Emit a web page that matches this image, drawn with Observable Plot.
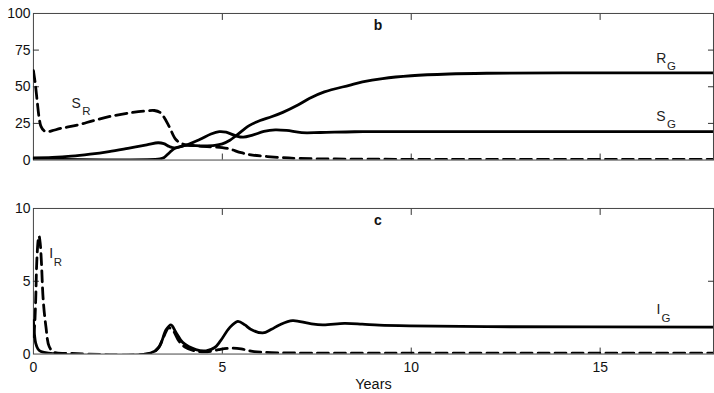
<!DOCTYPE html>
<html><head><meta charset="utf-8">
<script src="https://cdn.jsdelivr.net/npm/d3@7"></script>
<script src="https://cdn.jsdelivr.net/npm/@observablehq/plot@0.6"></script>
<style>
html,body{margin:0;padding:0;background:#fff;}
#wrap{position:relative;width:714px;height:393px;overflow:hidden;background:#fff;}
#top,#bot{position:absolute;left:0;}
#top{top:0px}
#bot{top:194px}
</style></head><body>
<div id="wrap"><div id="top"></div><div id="bot"></div></div>
<script>
// ---- data (years, value) ----
const xTickLabels = [0, 5, 10, 15];
const xInnerTicks = [5, 10, 15];
const topTicks = [0, 25, 50, 75, 100];
const topInnerTicks = [25, 50, 75];
const botTicks = [0, 5, 10];
const botInnerTicks = [5];

const S_R = [[0,61],[0.05,52],[0.1,40],[0.15,29],[0.2,23],[0.28,20],[0.37,19.3],[0.5,20],[0.72,21.6],[1.16,23.8],[1.6,27],[2.04,29.8],[2.63,32.5],[3.0,33.6],[3.2,33.8],[3.35,32.5],[3.45,29.5],[3.6,22.5],[3.77,14],[3.95,11],[4.4,9.5],[5.0,8.5],[5.2,7.5],[5.5,5],[5.8,3.4],[6.5,1.8],[7,1.1],[8,0.7],[10,0.5],[18,0.5]];
const S_G = [[0,1.5],[0.5,1.8],[1,2.6],[1.5,4],[2,5.8],[2.5,8],[3,10.3],[3.3,11.8],[3.45,11.2],[3.6,9.2],[3.73,8.3],[4.04,10.2],[4.4,14],[4.7,17.8],[4.92,19.4],[5.1,19],[5.36,16.5],[5.55,15.6],[5.8,17],[6.1,19.5],[6.4,20.6],[6.7,20.2],[7.1,18.7],[7.6,18.8],[8.5,19.3],[10,19.4],[18,19.4]];
const R_G = [[0,0.8],[3.35,0.8],[3.45,1.6],[3.6,5],[3.73,7.8],[3.9,9.3],[4.04,10],[4.5,9.7],[4.8,10],[5.0,11],[5.2,13.5],[5.36,16.5],[5.71,23.5],[6.0,27],[6.3,29.5],[6.6,32.5],[7.0,37.5],[7.3,42],[7.7,46.5],[8.36,51],[8.71,53.3],[9.24,55.6],[10,57.5],[11,58.7],[12,59.2],[14,59.5],[18,59.5]];
const I_R = [[0,1.2],[0.03,1.9],[0.06,3.7],[0.09,6.4],[0.13,7.9],[0.15,8.1],[0.18,7.6],[0.21,6.4],[0.26,3.7],[0.33,1.9],[0.42,0.5],[0.55,0.12],[1,0.05],[3.1,0.05],[3.3,0.4],[3.45,1.2],[3.58,1.8],[3.7,1.6],[3.85,0.9],[4.0,0.5],[4.3,0.2],[4.6,0.15],[4.9,0.3],[5.2,0.4],[5.5,0.35],[5.8,0.18],[6.3,0.1],[7,0.07],[18,0.07]];
const I_G = [[0,2.3],[0.03,1.3],[0.06,0.75],[0.12,0.35],[0.2,0.18],[0.4,0.07],[3.1,0.07],[3.33,0.5],[3.51,1.66],[3.64,2.0],[3.77,1.5],[3.95,0.8],[4.3,0.3],[4.57,0.22],[4.8,0.45],[4.95,0.9],[5.19,1.8],[5.41,2.25],[5.6,2.0],[5.75,1.7],[6.07,1.45],[6.3,1.7],[6.51,2.0],[6.86,2.3],[7.3,2.1],[7.66,2.0],[8.23,2.1],[8.7,2.05],[9.15,1.98],[9.95,1.93],[12,1.88],[18,1.85]];

// annotation anchors (data units)
const topLabels = [
  {main:"R", sub:"G", x:16.62, y:66.1, sx:16.89, sy:61.3},
  {main:"S", sub:"G", x:16.61, y:26.6, sx:16.89, sy:21.8},
  {main:"S", sub:"R", x:1.13, y:35.4, sx:1.40, sy:30.7}
];
const botLabels = [
  {main:"I", sub:"R", x:0.47, y:6.63, sx:0.65, sy:6.02},
  {main:"I", sub:"G", x:16.54, y:2.75, sx:16.74, sy:2.2}
];
const panelLabels = [{t:"b", x:9.12, y:88.6}, {t:"c", x:9.12, y:8.88}];

const rows = (arr) => arr.map(([t, v]) => ({t, v}));
const FONT = "'Liberation Sans', Arial, Helvetica, sans-serif";
const W = 716;

function panel({height, mt, mb, yDomain, yTicks, yInner, solid, dashed, labels, plabel, xLabels}) {
  const marks = [
    Plot.frame({stroke: "#444", strokeWidth: 1}),
    Plot.axisY({ticks: yTicks, tickSize: 0, tickPadding: 3, label: null, fill: "#111", fontSize: 14}),
    Plot.axisY({anchor: "left", ticks: yInner, tickSize: -6, fill: "none", label: null, stroke: "#333"}),
    Plot.axisY({anchor: "right", ticks: yInner, tickSize: -6, fill: "none", label: null, stroke: "#333"}),
    Plot.axisX({anchor: "top", ticks: xInnerTicks, tickSize: -6, fill: "none", label: null, stroke: "#333"}),
    Plot.axisX({anchor: "bottom", ticks: xInnerTicks, tickSize: -6, fill: "none", label: null, stroke: "#333"})
  ];
  if (xLabels) {
    marks.push(Plot.axisX({anchor: "bottom", ticks: xTickLabels, tickSize: 0, tickPadding: 8, label: null, fill: "#111", fontSize: 14}));
    marks.push(Plot.text(["Years"], {text: d => d, frameAnchor: "bottom", dy: 35, lineAnchor: "bottom", fontSize: 14.5, fill: "#111"}));
  }
  for (const s of dashed) marks.push(Plot.line(rows(s), {x: "t", y: "v", stroke: "#000", strokeWidth: 2.8, strokeDasharray: "11,6", curve: "catmull-rom", clip: true}));
  for (const s of solid) marks.push(Plot.line(rows(s), {x: "t", y: "v", stroke: "#000", strokeWidth: 2.8, curve: "catmull-rom", clip: true}));
  marks.push(Plot.text(labels, {x: "x", y: "y", text: "main", fontSize: 14, textAnchor: "middle", lineAnchor: "bottom", fill: "#222"}));
  marks.push(Plot.text(labels, {x: "sx", y: "sy", text: "sub", fontSize: 11.5, textAnchor: "middle", lineAnchor: "bottom", fill: "#222"}));
  marks.push(Plot.text([plabel], {x: "x", y: "y", text: "t", fontSize: 14, fontWeight: "bold", textAnchor: "middle", lineAnchor: "bottom", fill: "#111"}));
  return Plot.plot({
    width: W, height,
    marginLeft: 33, marginRight: 1, marginTop: mt, marginBottom: mb,
    style: {fontFamily: FONT, fontSize: "14px", background: "transparent", color: "#111"},
    x: {domain: [0, 18], axis: null},
    y: {domain: yDomain, axis: null},
    marks
  });
}

document.getElementById("top").append(panel({
  height: 175, mt: 13, mb: 15, yDomain: [0, 100], yTicks: topTicks, yInner: topInnerTicks,
  solid: [S_G, R_G], dashed: [S_R], labels: topLabels, plabel: panelLabels[0], xLabels: false
}));
document.getElementById("bot").append(panel({
  height: 199, mt: 14, mb: 39, yDomain: [0, 10], yTicks: botTicks, yInner: botInnerTicks,
  solid: [I_G], dashed: [I_R], labels: botLabels, plabel: panelLabels[1], xLabels: true
}));
</script>
</body></html>
